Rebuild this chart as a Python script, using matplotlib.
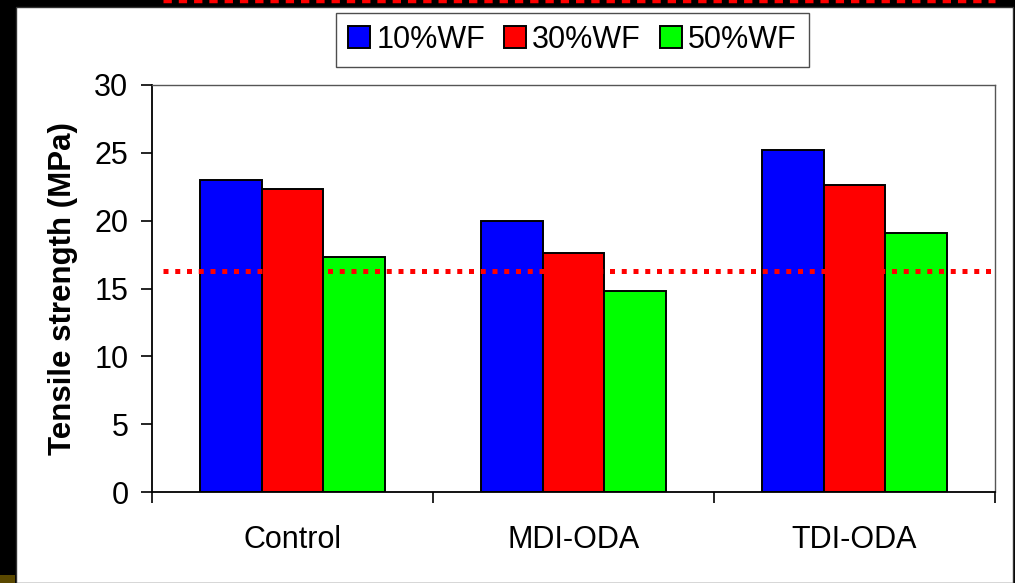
import matplotlib
matplotlib.use('Agg')
import matplotlib.pyplot as plt
import numpy as np
from matplotlib.patches import Rectangle
from matplotlib.lines import Line2D

plt.rcParams['font.family'] = ['Liberation Sans', 'DejaVu Sans']

# Datos
categorias = ['Control', 'MDI-ODA', 'TDI-ODA']
series = ['10%WF', '30%WF', '50%WF']
wf10 = [23.0, 20.0, 25.2]
wf30 = [22.3, 17.6, 22.6]
wf50 = [17.3, 14.8, 19.1]
linea_ref = 16.3
yticks = [0, 5, 10, 15, 20, 25, 30]

colores = ['#0000FF', '#FF0000', '#00FF00']

W, H = 1015, 583
fig = plt.figure(figsize=(W / 100, H / 100), dpi=100, facecolor='black')

# Panel blanco de la diapositiva (detras de los ejes)
fig.patches.append(Rectangle((16 / W, 0), (1013 - 16) / W, 1 - 7 / H,
                             transform=fig.transFigure, facecolor='white',
                             edgecolor='#333333', linewidth=1, zorder=-2))
fig.patches.append(Rectangle((0, 0), 15 / W, 8 / H, transform=fig.transFigure,
                             facecolor='#5a4800', edgecolor='none', zorder=-2))
# Linea punteada superior (cortada)
fig.lines.append(Line2D([163 / W, 995 / W], [1 - 1 / H, 1 - 1 / H],
                        transform=fig.transFigure, color='#FF0000', linewidth=2.5,
                        linestyle=(0, (2.4, 2.0)), dash_capstyle='butt'))

ax = fig.add_axes([152 / W, 1 - 492 / H, (995 - 152) / W, (492 - 85) / H])
ax.set_facecolor('white')

x = np.arange(len(categorias))
ancho = 0.2206
for i, (vals, nombre) in enumerate(zip([wf10, wf30, wf50], series)):
    ax.bar(x + (i - 1) * ancho, vals, ancho, color=colores[i], edgecolor='black',
           linewidth=1.4, label=nombre, zorder=2)

ax.axhline(linea_ref, xmin=11 / 843, xmax=1, color='#FF0000', linewidth=3.6,
           linestyle=(0, (1, 1.35)), dash_capstyle='butt', zorder=5)

ax.set_xlim(-0.5, 2.5)
ax.set_ylim(0, 30)
ax.set_yticks(yticks)
ax.tick_params(axis='y', direction='out', length=8, width=1.2, pad=9, labelsize=22)

ax.set_xticks([-0.5, 0.5, 1.5, 2.5])
ax.set_xticklabels([])
ax.set_xticks(x, minor=True)
ax.set_xticklabels(categorias, minor=True)
ax.tick_params(axis='x', which='major', direction='out', length=8, width=1.2)
ax.tick_params(axis='x', which='minor', length=0, pad=24, labelsize=22)

for lado in ['left', 'bottom']:
    ax.spines[lado].set_color('black')
    ax.spines[lado].set_linewidth(1.3)
for lado in ['top', 'right']:
    ax.spines[lado].set_color('#555555')
    ax.spines[lado].set_linewidth(1.0)

ax.set_ylabel('Tensile strength (MPa)', fontsize=22.5, fontweight='bold')
ax.yaxis.set_label_coords(-0.088, 0.5)

leg = fig.legend(loc='center', bbox_to_anchor=(572.5 / W, 1 - 40 / H), ncol=3,
                 fontsize=22, frameon=True, fancybox=False, handlelength=0.72,
                 handleheight=0.72, handletextpad=0.2, columnspacing=0.62,
                 borderpad=0.4, borderaxespad=0)
leg.get_frame().set_edgecolor('#222222')
leg.get_frame().set_linewidth(1.0)

fig.savefig('out.png', dpi=100, facecolor='black')
